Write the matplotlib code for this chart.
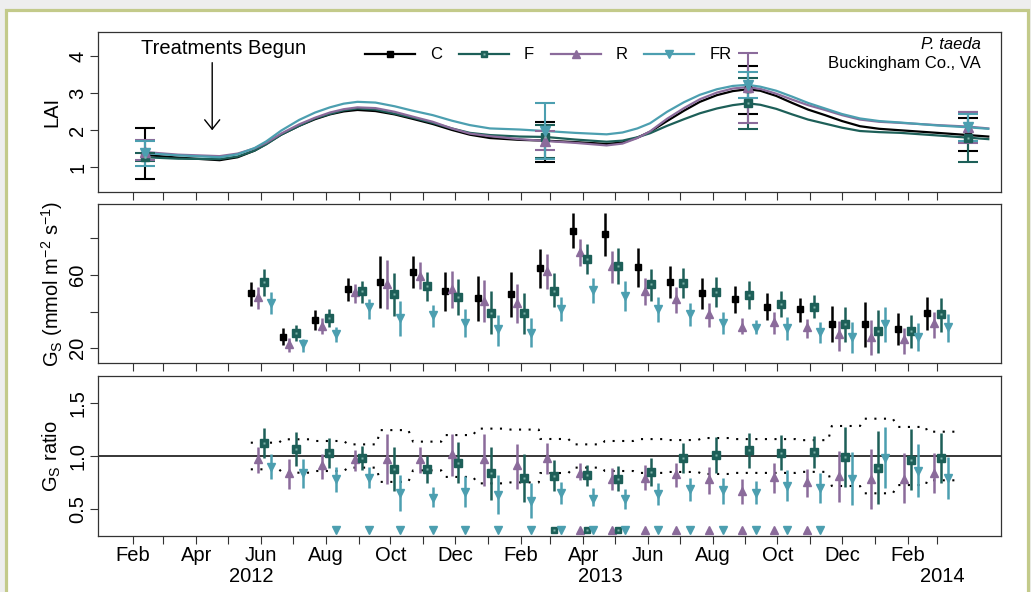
import matplotlib
matplotlib.use('Agg')
import matplotlib.pyplot as plt
import matplotlib.dates as mdates
import numpy as np
from datetime import datetime
from matplotlib.lines import Line2D
from matplotlib.patches import Rectangle
from matplotlib.ticker import FixedLocator, FuncFormatter, FixedFormatter
from matplotlib.legend_handler import HandlerTuple
from matplotlib.transforms import blended_transform_factory

plt.rcParams['font.family'] = ['Liberation Sans', 'DejaVu Sans']
plt.rcParams['mathtext.default'] = 'regular'

# ---------------- DATA ----------------
series = ['C', 'F', 'R', 'FR']

# LAI modelled curves
lai_curve_dates = ['2012-02-13', '2012-03-15', '2012-04-23', '2012-05-10', '2012-05-26',
                   '2012-06-06', '2012-06-20', '2012-07-07', '2012-07-22', '2012-08-05',
                   '2012-08-18', '2012-08-31', '2012-09-17', '2012-10-05', '2012-10-22',
                   '2012-11-10', '2012-11-28', '2012-12-15', '2013-01-03', '2013-01-31',
                   '2013-02-24', '2013-03-24', '2013-04-23', '2013-05-08', '2013-05-22',
                   '2013-06-03', '2013-06-19', '2013-07-05', '2013-07-20', '2013-08-05',
                   '2013-08-20', '2013-09-03', '2013-09-15', '2013-09-30', '2013-10-15',
                   '2013-10-30', '2013-11-15', '2013-12-01', '2013-12-18', '2014-01-05',
                   '2014-01-25', '2014-03-01', '2014-03-30', '2014-04-18']
lai_C = [1.33, 1.26, 1.19, 1.27, 1.45, 1.63, 1.88, 2.12, 2.30, 2.43, 2.51, 2.55, 2.52, 2.43,
         2.31, 2.17, 2.01, 1.88, 1.79, 1.74, 1.72, 1.68, 1.63, 1.67, 1.80, 1.96, 2.25, 2.53,
         2.77, 2.95, 3.06, 3.11, 3.07, 2.93, 2.74, 2.56, 2.41, 2.25, 2.11, 2.04, 2.00, 1.93,
         1.87, 1.83]
lai_F = [1.27, 1.23, 1.22, 1.29, 1.45, 1.62, 1.88, 2.12, 2.32, 2.44, 2.54, 2.59, 2.56, 2.45,
         2.34, 2.20, 2.05, 1.93, 1.87, 1.83, 1.82, 1.75, 1.69, 1.72, 1.81, 1.92, 2.12, 2.30,
         2.46, 2.59, 2.68, 2.73, 2.69, 2.58, 2.43, 2.29, 2.18, 2.07, 1.98, 1.95, 1.93, 1.86,
         1.80, 1.76]
lai_R = [1.41, 1.34, 1.30, 1.37, 1.51, 1.66, 1.91, 2.16, 2.34, 2.48, 2.57, 2.62, 2.60, 2.50,
         2.37, 2.23, 2.05, 1.91, 1.84, 1.76, 1.71, 1.66, 1.59, 1.64, 1.79, 1.97, 2.31, 2.60,
         2.84, 3.02, 3.13, 3.17, 3.12, 2.99, 2.83, 2.68, 2.55, 2.41, 2.29, 2.23, 2.20, 2.14,
         2.10, 2.05]
lai_FR = [1.38, 1.32, 1.27, 1.35, 1.52, 1.70, 1.99, 2.28, 2.48, 2.62, 2.72, 2.77, 2.75, 2.65,
          2.53, 2.41, 2.26, 2.14, 2.05, 2.02, 1.98, 1.93, 1.89, 1.94, 2.05, 2.19, 2.50, 2.76,
          2.96, 3.11, 3.20, 3.23, 3.18, 3.07, 2.91, 2.74, 2.59, 2.44, 2.32, 2.25, 2.21, 2.13,
          2.08, 2.04]

# LAI measurements with error bars
lai_pt_dates = ['2012-02-13', '2013-02-24', '2013-09-03', '2014-03-30']
laipt_C = [1.33, 1.72, 3.11, 1.87]
laipt_C_lo = [0.67, 1.14, 2.45, 1.44]
laipt_C_hi = [2.05, 2.22, 3.74, 2.32]
laipt_F = [1.27, 1.82, 2.73, 1.80]
laipt_F_lo = [1.17, 1.25, 2.03, 1.14]
laipt_F_hi = [1.38, 2.15, 3.41, 2.49]
laipt_R = [1.41, 1.71, 3.17, 2.10]
laipt_R_lo = [1.19, 1.46, 2.21, 1.66]
laipt_R_hi = [1.73, 1.98, 4.09, 2.49]
laipt_FR = [1.38, 1.98, 3.23, 2.08]
laipt_FR_lo = [1.04, 1.22, 2.87, 1.70]
laipt_FR_hi = [1.70, 2.73, 3.59, 2.45]

# Canopy conductance, monthly groups Jun 2012 - Mar 2014
gs_months = ['2012-06-01', '2012-07-01', '2012-08-01', '2012-09-01', '2012-10-01', '2012-11-01',
             '2012-12-01', '2013-01-01', '2013-02-01', '2013-03-01', '2013-04-01', '2013-05-01',
             '2013-06-01', '2013-07-01', '2013-08-01', '2013-09-01', '2013-10-01', '2013-11-01',
             '2013-12-01', '2014-01-01', '2014-02-01', '2014-03-01']
gs_C = [50.0, 26.3, 35.4, 52.2, 56.3, 61.8, 51.3, 47.6, 49.5, 63.6, 84.2, 82.4, 64.2, 56.3,
        50.0, 46.7, 42.7, 41.3, 33.3, 33.3, 30.4, 39.1]
gs_C_lo = [43.2, 21.8, 30.0, 45.8, 42.2, 52.7, 40.5, 34.9, 36.9, 52.7, 74.6, 70.5, 53.6, 47.3,
           41.3, 39.1, 35.4, 34.5, 23.3, 20.9, 21.8, 30.0]
gs_C_hi = [56.3, 30.9, 40.9, 58.2, 70.4, 70.5, 61.8, 59.6, 61.8, 74.0, 94.0, 94.0, 74.9, 64.9,
           58.5, 54.0, 50.0, 47.3, 43.1, 45.1, 39.1, 48.2]
gs_R = [48.2, 22.3, 32.2, 50.9, 54.9, 59.6, 52.4, 45.8, 44.5, 62.3, 72.4, 64.9, 51.4, 46.7,
        38.7, 31.8, 34.5, 31.8, 27.8, 26.3, 24.9, 33.6]
gs_R_lo = [41.4, 17.8, 27.6, 44.5, 41.4, 52.4, 41.8, 34.2, 33.6, 52.4, 65.1, 55.5, 43.6, 39.4,
           31.8, 27.8, 27.8, 25.5, 18.7, 16.3, 16.7, 25.8]
gs_R_hi = [53.6, 25.8, 36.4, 55.1, 68.2, 67.2, 62.2, 57.3, 55.1, 71.4, 79.5, 73.3, 58.2, 53.3,
           44.5, 36.4, 40.0, 36.0, 34.9, 35.4, 30.9, 40.0]
gs_F = [56.0, 28.5, 36.5, 51.4, 49.5, 54.0, 48.2, 39.4, 39.1, 51.4, 68.7, 64.9, 54.9, 55.5,
        50.5, 49.1, 44.2, 42.7, 33.3, 29.4, 29.4, 38.5]
gs_F_lo = [48.5, 24.0, 31.8, 44.9, 37.6, 46.0, 38.2, 27.6, 27.6, 42.4, 60.5, 55.1, 46.0, 47.3,
           42.4, 41.3, 37.3, 36.4, 23.6, 17.6, 20.3, 29.1]
gs_F_hi = [63.1, 32.7, 41.4, 56.9, 60.9, 61.6, 57.8, 51.4, 50.3, 60.9, 76.7, 74.6, 63.1, 63.6,
           58.7, 56.9, 51.3, 49.1, 42.4, 40.9, 38.2, 47.3]
gs_FR = [44.9, 22.2, 27.8, 42.7, 36.4, 38.2, 34.0, 30.4, 28.2, 41.4, 51.8, 48.5, 41.3, 38.7,
         33.6, 30.9, 31.3, 29.1, 26.3, 33.3, 26.3, 31.5]
gs_FR_lo = [38.7, 18.2, 23.3, 36.0, 26.9, 31.8, 26.3, 21.3, 20.5, 34.9, 44.9, 40.5, 34.2, 32.2,
            27.6, 27.6, 24.5, 23.1, 17.6, 23.3, 18.5, 23.3]
gs_FR_hi = [50.5, 25.1, 31.8, 46.7, 46.0, 43.6, 41.3, 38.2, 36.4, 48.2, 58.2, 56.7, 47.8, 44.5,
            39.6, 35.4, 37.3, 34.5, 34.5, 42.4, 33.6, 38.5]

# Gs ratio to control
rat_R = [0.968, 0.836, 0.912, 0.975, 0.975, 0.968, 1.016, 0.968, 0.912, 0.984, 0.842, 0.779,
         0.795, 0.827, 0.779, 0.669, 0.804, 0.754, 0.811, 0.779, 0.786, 0.842]
rat_R_lo = [0.842, 0.685, 0.779, 0.858, 0.732, 0.836, 0.811, 0.716, 0.685, 0.833, 0.770, 0.675,
            0.678, 0.707, 0.637, 0.543, 0.653, 0.615, 0.565, 0.495, 0.552, 0.653]
rat_R_hi = [1.085, 0.975, 1.016, 1.054, 1.205, 1.085, 1.205, 1.205, 1.117, 1.126, 0.937, 0.890,
            0.912, 0.937, 0.899, 0.786, 0.931, 0.880, 1.047, 1.069, 1.032, 1.025]
rat_F = [1.126, 1.069, 1.032, 0.984, 0.880, 0.874, 0.937, 0.836, 0.795, 0.811, 0.817, 0.786,
         0.849, 0.984, 1.013, 1.057, 1.032, 1.038, 0.994, 0.890, 0.962, 0.984]
rat_F_lo = [0.978, 0.905, 0.890, 0.864, 0.669, 0.748, 0.748, 0.584, 0.565, 0.669, 0.716, 0.669,
            0.716, 0.842, 0.842, 0.890, 0.868, 0.890, 0.710, 0.543, 0.678, 0.741]
rat_F_hi = [1.268, 1.227, 1.167, 1.095, 1.085, 1.000, 1.132, 1.085, 1.016, 0.959, 0.912, 0.905,
            0.984, 1.126, 1.180, 1.221, 1.196, 1.189, 1.274, 1.237, 1.252, 1.221]
rat_FR = [0.899, 0.836, 0.779, 0.795, 0.647, 0.606, 0.659, 0.628, 0.574, 0.653, 0.596, 0.590,
          0.637, 0.685, 0.675, 0.653, 0.716, 0.700, 0.779, 0.984, 0.858, 0.795]
rat_FR_lo = [0.779, 0.694, 0.659, 0.694, 0.480, 0.518, 0.518, 0.454, 0.417, 0.549, 0.527, 0.495,
             0.533, 0.574, 0.549, 0.543, 0.574, 0.559, 0.533, 0.700, 0.615, 0.596]
rat_FR_hi = [1.016, 0.975, 0.896, 0.896, 0.817, 0.707, 0.811, 0.817, 0.741, 0.754, 0.694, 0.685,
             0.741, 0.789, 0.789, 0.763, 0.864, 0.842, 1.038, 1.278, 1.110, 0.994]
# half-width of control variability band (dotted lines at 1 +/- band)
ctrl_band = [0.126, 0.158, 0.142, 0.110, 0.245, 0.136, 0.198, 0.259, 0.250, 0.161, 0.110, 0.142,
             0.160, 0.151, 0.170, 0.160, 0.160, 0.150, 0.284, 0.353, 0.275, 0.230]
# significant difference flags
sig_R = [0, 0, 0, 0, 0, 0, 0, 0, 0, 0, 1, 1, 1, 1, 1, 1, 1, 1, 0, 0, 0, 0]
sig_F = [0, 0, 0, 0, 0, 0, 0, 0, 0, 1, 1, 1, 0, 0, 0, 0, 0, 0, 0, 0, 0, 0]
sig_FR = [0, 0, 1, 1, 1, 1, 1, 1, 1, 1, 1, 1, 1, 1, 1, 1, 1, 1, 0, 0, 0, 0]

month_ticks = ['2012-%02d-01' % m for m in range(2, 13)] + \
              ['2013-%02d-01' % m for m in range(1, 13)] + ['2014-01-01', '2014-02-01', '2014-03-01']
month_abbr = ['Jan', 'Feb', 'Mar', 'Apr', 'May', 'Jun', 'Jul', 'Aug', 'Sep', 'Oct', 'Nov', 'Dec']
year_labels = ['2012', '2013', '2014']
year_label_dates = ['2012-05-23', '2013-04-17', '2014-03-06']

# ---------------- STYLE ----------------
COL = {'C': 'black', 'F': '#1d5f58', 'R': '#8b6b9b', 'FR': '#4c9fb0'}
F_INNER = '#7fb3aa'
FS = 14.5


def dn(s):
    return mdates.date2num(datetime.strptime(s, '%Y-%m-%d'))


W, H = 1031, 592
fig = plt.figure(figsize=(W / 100, H / 100), dpi=100)
fig.patch.set_facecolor('#eeeeee')
fig.add_artist(Rectangle((5.5 / W, -0.1), (1027.5 - 5.5) / W, (1 - 9.5 / H) + 0.1,
                         transform=fig.transFigure, facecolor='white', edgecolor='#c3ca8a',
                         lw=2.3, zorder=-10))

L, Rr = 97.7 / W, 1001 / W


def fy(p):
    return 1 - p / H


ax1 = fig.add_axes([L, fy(191.6), Rr - L, fy(32) - fy(191.6)])
ax2 = fig.add_axes([L, fy(363), Rr - L, fy(204) - fy(363)])
ax3 = fig.add_axes([L, fy(536), Rr - L, fy(376) - fy(536)])

xlim = (dn('2011-12-30'), dn('2014-04-30'))
mt = [dn(s) for s in month_ticks]


def mfmt(v, pos):
    d = mdates.num2date(v)
    return month_abbr[d.month - 1] if d.month % 2 == 0 else ''


for ax in (ax1, ax2, ax3):
    ax.set_xlim(*xlim)
    ax.xaxis.set_major_locator(FixedLocator(mt))
    for sp in ax.spines.values():
        sp.set_color('#333333')
        sp.set_linewidth(0.9)
    ax.tick_params(direction='out', length=5.5, width=0.8, color='#333333', labelsize=FS)
    ax.tick_params(axis='y', labelrotation=90, pad=2)
    ax.tick_params(axis='x', pad=1.5)
    ax.set_facecolor('none')

ax1.xaxis.set_major_formatter(FuncFormatter(lambda v, p: ''))
ax2.xaxis.set_major_formatter(FuncFormatter(lambda v, p: ''))
ax3.xaxis.set_major_formatter(FuncFormatter(mfmt))

# ---------------- TOP PANEL: LAI ----------------
cd = [dn(s) for s in lai_curve_dates]
pd_ = [dn(s) for s in lai_pt_dates]
curves = {'C': lai_C, 'F': lai_F, 'R': lai_R, 'FR': lai_FR}
pts = {'C': (laipt_C, laipt_C_lo, laipt_C_hi), 'F': (laipt_F, laipt_F_lo, laipt_F_hi),
       'R': (laipt_R, laipt_R_lo, laipt_R_hi), 'FR': (laipt_FR, laipt_FR_lo, laipt_FR_hi)}
mk = {'C': ('s', 4.5), 'F': ('s', 5.3), 'R': ('^', 6.5), 'FR': ('v', 6.5)}
for s in series:
    ax1.plot(cd, curves[s], color=COL[s], lw=1.6, zorder=3, solid_joinstyle='round')
for s in ['C', 'F', 'R', 'FR']:
    y, lo, hi = (np.array(a) for a in pts[s])
    ax1.errorbar(pd_, y, yerr=[y - lo, hi - y], fmt='none', ecolor=COL[s], elinewidth=1.5,
                 capsize=7, capthick=1.5, zorder=4)
    m, ms = mk[s]
    ax1.plot(pd_, y, ls='none', marker=m, ms=ms, mfc=COL[s], mec=COL[s], zorder=5)
    if s == 'F':
        ax1.plot(pd_, y, ls='none', marker='s', ms=2.0, mfc=F_INNER, mec='none', zorder=6)

ax1.set_ylim(0.34, 4.66)
ax1.yaxis.set_major_locator(FixedLocator([1, 2, 3, 4]))
ax1.set_ylabel('LAI', fontsize=FS, va='center')
ax1.yaxis.set_label_coords(-0.0506, 0.5)

ax1.text(dn('2012-04-27'), 4.07, 'Treatments Begun', ha='center', va='baseline', fontsize=FS)
ax1.annotate('', xy=(dn('2012-04-16'), 2.0), xytext=(dn('2012-04-16'), 3.83),
             arrowprops=dict(arrowstyle='->,head_length=0.45,head_width=0.36', lw=1.0,
                             color='black', shrinkA=0, shrinkB=0, mutation_scale=15))
ax1.text(0.978, 0.893, 'P. taeda', style='italic', ha='right', va='baseline',
         transform=ax1.transAxes, fontsize=12)
ax1.text(0.978, 0.773, 'Buckingham Co., VA', ha='right', va='baseline',
         transform=ax1.transAxes, fontsize=12)

handles = []
for s in series:
    m, ms = mk[s]
    h = Line2D([], [], color=COL[s], lw=1.6, marker=m, ms=ms - 0.5, mfc=COL[s], mec=COL[s])
    if s == 'F':
        h = (h, Line2D([], [], ls='none', marker='s', ms=2.0, mfc=F_INNER, mec='none'))
    handles.append(h)
ax1.legend(handles, series, ncol=4, loc='center', bbox_to_anchor=(0.499, 0.856),
           frameon=False, fontsize=12, handlelength=3.0, handletextpad=0.9,
           columnspacing=1.0, borderpad=0, borderaxespad=0,
           handler_map={tuple: HandlerTuple(ndivide=1)})

# ---------------- MIDDLE PANEL: Gs ----------------
gm = np.array([dn(s) for s in gs_months])
offs = {'C': -9.6, 'R': -3.2, 'F': 3.2, 'FR': 9.6}
gsd = {'C': (gs_C, gs_C_lo, gs_C_hi), 'R': (gs_R, gs_R_lo, gs_R_hi),
       'F': (gs_F, gs_F_lo, gs_F_hi), 'FR': (gs_FR, gs_FR_lo, gs_FR_hi)}
mk2 = {'C': ('s', 4.2), 'F': ('s', 5.4), 'R': ('^', 6.2), 'FR': ('v', 6.2)}
for s in ['C', 'R', 'F', 'FR']:
    y, lo, hi = gsd[s]
    x = gm + offs[s]
    ax2.vlines(x, lo, hi, color=COL[s], lw=1.8, zorder=3)
    m, ms = mk2[s]
    ax2.plot(x, y, ls='none', marker=m, ms=ms, mfc=COL[s], mec=COL[s], zorder=4)
    if s == 'F':
        ax2.plot(x, y, ls='none', marker='s', ms=2.0, mfc=F_INNER, mec='none', zorder=5)
ax2.set_ylim(12.0, 98.7)
ax2.yaxis.set_major_locator(FixedLocator([20, 40, 60, 80]))
ax2.yaxis.set_major_formatter(FixedFormatter(['20', '', '60', '']))
ax2.set_ylabel(r'$G_S$ (mmol m$^{-2}$ s$^{-1}$)', fontsize=FS, va='center')
ax2.yaxis.set_label_coords(-0.0506, 0.5)

# ---------------- BOTTOM PANEL: ratio ----------------
ax3.axhline(1.0, color='black', lw=1.1, zorder=2)
bx, by_u, by_l = [], [], []
for c, d in zip(gm, ctrl_band):
    bx += [c - 9.6, c + 17]
    by_u += [1 + d, 1 + d]
    by_l += [1 - d, 1 - d]
ax3.plot(bx, by_u, color='black', lw=1.5, ls=(0, (1, 3.6)), zorder=2)
ax3.plot(bx, by_l, color='black', lw=1.5, ls=(0, (1, 3.6)), zorder=2)

ratd = {'R': (rat_R, rat_R_lo, rat_R_hi), 'F': (rat_F, rat_F_lo, rat_F_hi),
        'FR': (rat_FR, rat_FR_lo, rat_FR_hi)}
for s in ['R', 'F', 'FR']:
    y, lo, hi = ratd[s]
    x = gm + offs[s]
    ax3.vlines(x, lo, hi, color=COL[s], lw=1.8, zorder=3)
    m, ms = mk2[s]
    ax3.plot(x, y, ls='none', marker=m, ms=ms, mfc=COL[s], mec=COL[s], zorder=4)
    if s == 'F':
        ax3.plot(x, y, ls='none', marker='s', ms=2.0, mfc=F_INNER, mec='none', zorder=5)

sigd = {'R': sig_R, 'F': sig_F, 'FR': sig_FR}
sigmk = {'R': ('^', 6.0), 'F': ('s', 4.0), 'FR': ('v', 6.0)}
for s in ['R', 'F', 'FR']:
    flags = np.array(sigd[s], dtype=bool)
    x = (gm + offs[s])[flags]
    m, ms = sigmk[s]
    ax3.plot(x, np.full(len(x), 0.30), ls='none', marker=m, ms=ms, mfc=COL[s], mec=COL[s],
             zorder=4)
    if s == 'F':
        ax3.plot(x, np.full(len(x), 0.30), ls='none', marker='s', ms=1.6, mfc=F_INNER,
                 mec='none', zorder=5)

ax3.set_ylim(0.243, 1.757)
ax3.yaxis.set_major_locator(FixedLocator([0.5, 1.0, 1.5]))
ax3.yaxis.set_major_formatter(FixedFormatter(['0.5', '1.0', '1.5']))
ax3.set_ylabel(r'$G_S$ ratio', fontsize=FS, va='center')
ax3.yaxis.set_label_coords(-0.0506, 0.5)

for ax in (ax1, ax2, ax3):
    for lab in ax.get_yticklabels():
        lab.set_va('center')

tr = blended_transform_factory(ax3.transData, ax3.transAxes)
for lab, d in zip(year_labels, year_label_dates):
    ax3.text(dn(d), -0.254, lab, ha='center', va='center', fontsize=FS, transform=tr)

fig.savefig('out.png', dpi=100, facecolor=fig.get_facecolor())
